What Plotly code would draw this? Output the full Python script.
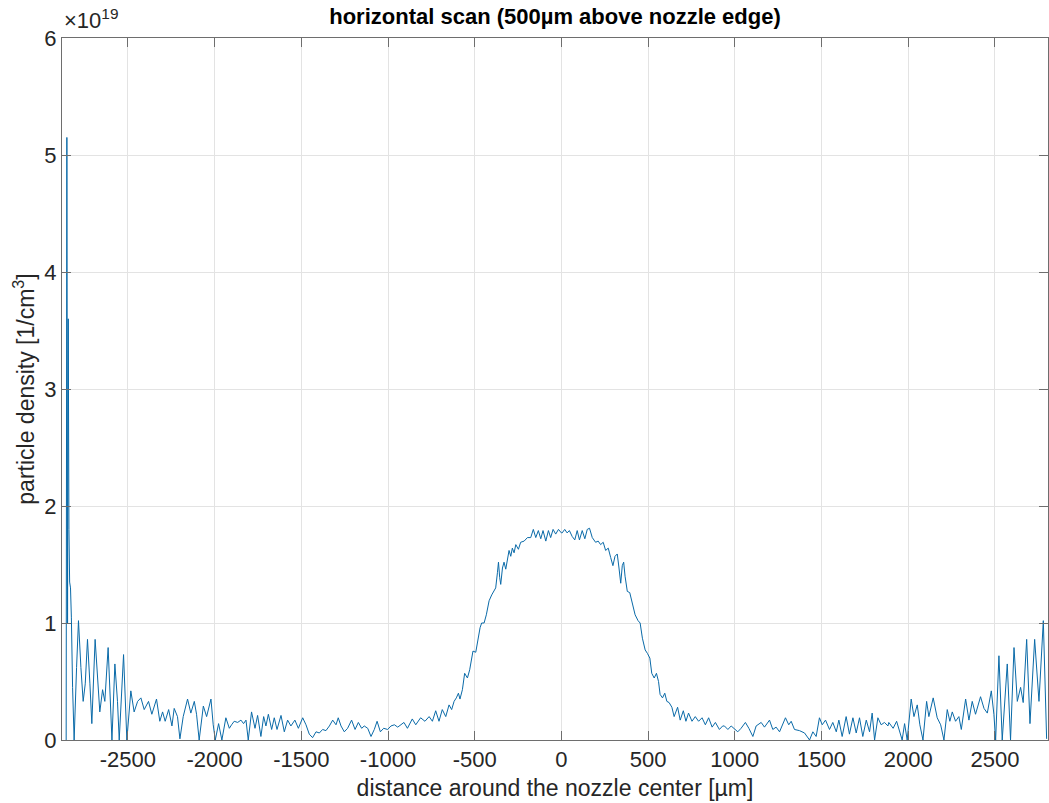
import plotly.graph_objects as go

# distance around nozzle center [µm]
x_um = [
    -2856, -2852, -2848, -2844, -2840, -2836, -2831, -2826, -2819, -2810,
    -2796, -2785, -2771, -2758, -2746, -2733, -2719, -2708, -2689, -2675,
    -2662, -2646, -2633, -2614, -2604, -2592, -2575, -2560, -2550, -2525,
    -2506, -2483, -2464, -2444, -2425, -2406, -2381, -2362, -2335, -2316,
    -2300, -2285, -2265, -2246, -2233, -2214, -2200, -2181, -2156, -2137,
    -2117, -2104, -2089, -2065, -2046, -2021, -2008, -1996, -1977, -1958,
    -1935, -1915, -1902, -1887, -1867, -1848, -1833, -1819, -1806, -1787,
    -1767, -1752, -1733, -1717, -1704, -1690, -1671, -1656, -1640, -1617,
    -1598, -1579, -1560, -1537, -1517, -1492, -1473, -1454, -1435, -1415,
    -1396, -1377, -1358, -1338, -1319, -1300, -1287, -1271, -1252, -1233,
    -1210, -1190, -1171, -1152, -1137, -1117, -1098, -1079, -1063, -1044,
    -1025, -1002, -983, -963, -944, -925, -908, -888, -860, -840,
    -812, -787, -763, -744, -725, -706, -687, -667, -648, -633,
    -619, -606, -594, -585, -571, -558, -542, -529, -517, -510,
    -494, -481, -469, -460, -446, -433, -417, -402, -388, -379,
    -369, -363, -356, -350, -340, -331, -321, -312, -302, -292,
    -283, -273, -263, -248, -235, -215, -196, -177, -162, -148,
    -133, -119, -106, -90, -75, -62, -48, -33, -17, 0,
    4, 19, 33, 46, 62, 77, 91, 104, 120, 135,
    149, 162, 178, 197, 212, 226, 241, 255, 270, 284,
    297, 309, 322, 332, 342, 351, 359, 367, 380, 394,
    409, 425, 442, 454, 467, 483, 496, 510, 521, 535,
    548, 560, 569, 583, 596, 608, 621, 637, 650, 670,
    685, 703, 718, 733, 753, 772, 791, 811, 830, 849,
    869, 888, 911, 930, 940, 960, 979, 1002, 1017, 1036,
    1061, 1081, 1104, 1123, 1152, 1171, 1200, 1219, 1238, 1258,
    1273, 1292, 1311, 1325, 1344, 1373, 1402, 1415, 1431, 1450,
    1469, 1488, 1504, 1523, 1546, 1565, 1585, 1600, 1619, 1642,
    1661, 1681, 1700, 1719, 1738, 1758, 1777, 1792, 1806, 1825,
    1844, 1863, 1883, 1888, 1913, 1933, 1952, 1965, 1979, 1994,
    2017, 2033, 2052, 2067, 2085, 2106, 2119, 2144, 2167, 2187,
    2206, 2225, 2240, 2254, 2273, 2292, 2306, 2331, 2350, 2369,
    2388, 2417, 2437, 2456, 2479, 2494, 2504, 2523, 2542, 2571,
    2590, 2610, 2629, 2648, 2663, 2683, 2702, 2729, 2754, 2779,
    2798,
]

# particle density in units of 1e19 [1/cm^3]
density_e19 = [
    0.0, 5.15, 1.0, 3.6, 1.8, 1.35, 1.3, 1.05, 0.45, 0.0,
    0.62, 1.02, 0.62, 0.33, 0.48, 0.86, 0.48, 0.14, 0.86, 0.48,
    0.24, 0.43, 0.33, 0.79, 0.45, 0.0, 0.65, 0.33, 0.0, 0.73,
    0.0, 0.42, 0.24, 0.33, 0.36, 0.26, 0.33, 0.22, 0.35, 0.16,
    0.24, 0.16, 0.26, 0.12, 0.27, 0.2, 0.01, 0.2, 0.35, 0.23,
    0.33, 0.22, 0.0, 0.29, 0.2, 0.35, 0.13, 0.0, 0.14, 0.0,
    0.19, 0.1, 0.13, 0.16, 0.15, 0.17, 0.14, 0.17, 0.0, 0.24,
    0.1, 0.21, 0.03, 0.2, 0.12, 0.22, 0.09, 0.19, 0.09, 0.21,
    0.07, 0.17, 0.12, 0.17, 0.1, 0.19, 0.13, 0.05, 0.02, 0.07,
    0.06, 0.09, 0.08, 0.12, 0.17, 0.13, 0.19, 0.12, 0.07, 0.1,
    0.17, 0.09, 0.15, 0.1, 0.12, 0.1, 0.03, 0.09, 0.16, 0.07,
    0.1, 0.09, 0.12, 0.13, 0.11, 0.13, 0.15, 0.1, 0.18, 0.13,
    0.19, 0.16, 0.2, 0.16, 0.25, 0.16, 0.26, 0.2, 0.3, 0.26,
    0.33, 0.36, 0.4, 0.35, 0.43, 0.57, 0.53, 0.6, 0.7, 0.76,
    0.75, 0.87, 0.96, 1.0, 1.0, 1.07, 1.19, 1.24, 1.27, 1.3,
    1.43, 1.52, 1.39, 1.33, 1.47, 1.52, 1.46, 1.53, 1.62, 1.57,
    1.64, 1.6, 1.67, 1.63, 1.69, 1.7, 1.73, 1.73, 1.8, 1.73,
    1.79, 1.72, 1.79, 1.7, 1.79, 1.73, 1.8, 1.76, 1.8, 1.77,
    1.77, 1.8, 1.77, 1.79, 1.74, 1.71, 1.79, 1.71, 1.79, 1.72,
    1.8, 1.81, 1.73, 1.69, 1.7, 1.67, 1.69, 1.62, 1.64, 1.56,
    1.49, 1.57, 1.59, 1.47, 1.34, 1.49, 1.52, 1.4, 1.27, 1.26,
    1.16, 1.07, 1.02, 1.0, 0.87, 0.77, 0.74, 0.7, 0.57, 0.53,
    0.57, 0.5, 0.39, 0.36, 0.4, 0.33, 0.32, 0.28, 0.2, 0.28,
    0.17, 0.25, 0.16, 0.23, 0.16, 0.2, 0.16, 0.19, 0.13, 0.19,
    0.11, 0.15, 0.09, 0.12, 0.12, 0.09, 0.12, 0.09, 0.07, 0.1,
    0.15, 0.1, 0.03, 0.12, 0.15, 0.11, 0.17, 0.09, 0.11, 0.07,
    0.13, 0.19, 0.13, 0.16, 0.09, 0.08, 0.06, 0.03, 0.0, 0.07,
    0.03, 0.19, 0.13, 0.17, 0.09, 0.15, 0.07, 0.17, 0.03, 0.2,
    0.05, 0.19, 0.06, 0.19, 0.03, 0.17, 0.07, 0.23, 0.0, 0.19,
    0.13, 0.15, 0.12, 0.15, 0.1, 0.16, 0.06, 0.0, 0.14, 0.0,
    0.35, 0.2, 0.3, 0.13, 0.0, 0.33, 0.2, 0.36, 0.19, 0.13,
    0.0, 0.26, 0.16, 0.24, 0.16, 0.2, 0.09, 0.35, 0.17, 0.33,
    0.22, 0.37, 0.27, 0.23, 0.42, 0.22, 0.0, 0.72, 0.0, 0.65,
    0.0, 0.79, 0.33, 0.45, 0.32, 0.86, 0.14, 0.86, 0.33, 1.02,
    0.01,
]

SCALE = 1e19
x_ticks = [-2500, -2000, -1500, -1000, -500, 0, 500, 1000, 1500, 2000, 2500]
y_ticks = [0, 1, 2, 3, 4, 5, 6]
x_range = [-2880, 2806]

density = [v * SCALE for v in density_e19]

FONT = "Liberation Sans, Arial, Helvetica, sans-serif"
AXIS_COL = "#6e6e6e"
GRID_COL = "#e3e3e3"
TEXT_COL = "#262626"

fig = go.Figure()
fig.add_trace(go.Scatter(
    x=x_um, y=density, mode="lines",
    line=dict(color="#0a6aa8", width=1),
    showlegend=False,
))

fig.update_layout(
    width=1049, height=803,
    margin=dict(l=62, r=1, t=38, b=63),
    paper_bgcolor="white", plot_bgcolor="white",
    font=dict(family=FONT, color=TEXT_COL, size=22),
    title=dict(
        text="<b>horizontal scan (500µm above nozzle edge)</b>",
        x=(62 + 1048) / 2 / 1049, xanchor="center",
        y=1 - 16 / 803, yanchor="middle",
        font=dict(size=22, color="#000000", family=FONT),
    ),
    xaxis=dict(
        range=x_range, tickvals=x_ticks,
        ticktext=[str(v) for v in x_ticks],
        showgrid=True, gridcolor=GRID_COL, gridwidth=1,
        zeroline=False, showline=True, linecolor=AXIS_COL, linewidth=1,
        mirror="ticks", ticks="inside", ticklen=9, tickcolor=AXIS_COL,
        tickfont=dict(size=22, color=TEXT_COL), automargin=False,
        title=dict(text="distance around the nozzle center [µm]",
                   font=dict(size=23, color=TEXT_COL), standoff=8),
    ),
    yaxis=dict(
        range=[0, 6 * SCALE], tickvals=[v * SCALE for v in y_ticks],
        ticktext=[str(v) for v in y_ticks],
        showgrid=True, gridcolor=GRID_COL, gridwidth=1,
        zeroline=False, showline=True, linecolor=AXIS_COL, linewidth=1,
        mirror="ticks", ticks="inside", ticklen=9, tickcolor=AXIS_COL,
        tickfont=dict(size=22, color=TEXT_COL), automargin=False,
        title=dict(text="particle density [1/cm<sup>3</sup>]",
                   font=dict(size=23, color=TEXT_COL), standoff=3),
    ),
)

fig.add_annotation(
    text="×10<sup>19</sup>", xref="paper", yref="paper",
    x=0, y=1, xanchor="left", yanchor="bottom", yshift=3,
    showarrow=False, font=dict(size=22, color=TEXT_COL, family=FONT),
)

fig.write_html("out.html", config={"displayModeBar": False},
               post_script="document.body.style.margin='0';")
